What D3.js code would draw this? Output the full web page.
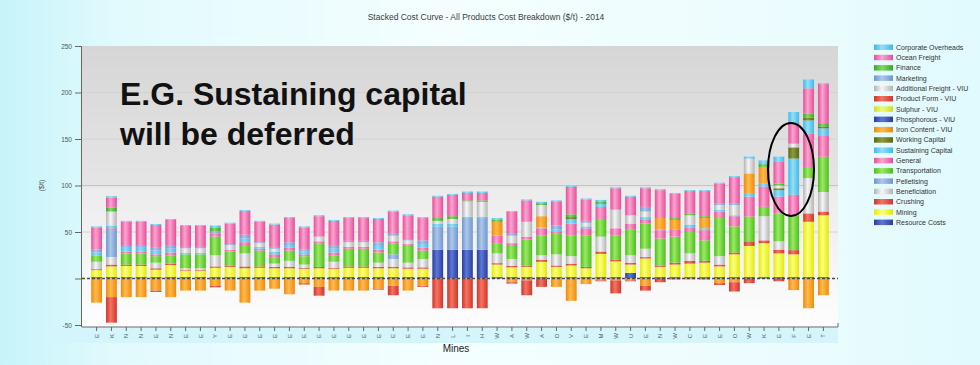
<!DOCTYPE html>
<html>
<head>
<meta charset="utf-8">
<script src="https://cdn.jsdelivr.net/npm/d3@7"></script>
<style>
  body { margin: 0; background: #fff; }
  svg { display: block; }
  text { font-family: "Liberation Sans", Arial, Helvetica, sans-serif; }
</style>
</head>
<body>
<svg id="chart" width="980" height="365"></svg>
<script>
// ---- Data: cost components per mine ($/t), 2014 ----
const mines = ["E","K","N","N","E","N","E","E","Y","E","E","E","E","E","E","E","E","E","E","E",
               "E","E","E","N","L","I","H","W","A","W","A","O","V","E","M","W","U","E","N","W",
               "C","E","E","O","W","K","E","F","E","T"];

const resourceCosts = [1.5,1.5,1.5,1.5,1.5,1.5,1.5,1.5,1.5,1.5,1.5,1.5,1.5,1.5,1.5,1.5,1.5,1.5,1.5,1.5,
                       1.5,1.5,1.5,31,31,31,31,1.5,1.5,1.5,1.5,1.5,1.5,1.5,1.5,1.5,6,1.5,1.5,1.5,
                       1.5,1.5,1.5,1.5,1.5,1.5,1.5,1.5,1.5,1.5];
const mining = [7.5,11.5,12,12,8,13,7,7,10,11,9.5,10,9.5,9.5,9,9.5,9,10,10,9.5,
                9.5,9,9,0,0,0,0,13.5,10.5,11,16.5,11,12.5,9.5,25,17,9,20,11,13.5,
                14.5,15.5,11.5,24.5,33.5,36.5,25.5,24.5,59.5,66.5];
const crushing = [1,2,1.5,1.5,1.5,1.5,1,1,1.5,1.5,2,1.5,1.5,1.5,1,1.5,1,1.5,1.5,1.5,
                  1.5,1.5,1.5,0,0,0,0,1.5,1.5,1.5,2,1.5,2,1.5,2.5,1.5,2,1.5,1.5,2,
                  3,2,2,2,5,3,4,4.5,9,4];
const beneficiation = [8,8,0,0,6,0,1.5,1.5,12,0,14,0,3.5,6.5,3.5,0,6.5,0,0,4.5,
                       8.5,5,9,0,0,0,0,10.5,7.5,0,5,12,8,0,16,0,8,9,0,0,
                       8,0,9,0,0,26,9,0,38,21];
const pelletising = [0,29,0,0,0,0,0,0,0,0,0,0,0,0,0,0,0,0,0,0,
                     5,0,0,25,25,34,34,0,0,0,0,0,0,0,0,0,0,0,0,0,
                     0,0,0,0,0,0,0,0,0,0];
const transportation = [7,0,12,12,7,9,15,15,20,15,9,17,7,11,9,25.5,7,19,19,11,
                         12,18,9,0,0,0,0,11,15,28,21,22,22,33.5,18,26,28,27,29,28,
                         23,22,41,28,26.5,10,30,37.5,12,38];
const general = [0,2,2,2,2,3,0,0,3,2,3,2,3,3,2,2,3,2,2,3,
                 2,2,3,0,0,0,0,8,2,3,8,2,13,8,14,8,6,4,9,8,
                 5,11,7,11,21.5,22,18,22,36,23];
const sustainingCapital = [3,3,4,4,4,4,1.5,1.5,0,0,4,2,3,3,3,0,4,0,0,4,
                           0,0,4,3,3,1.5,1.5,0,0,0,1,3,5,2,3,0,0,3,1,0,
                           3,2,2,1,4,3,7,39,14,7.5];
const workingCapital = [0,0,0,0,0,0,0,0,0,0,0,0,0,0,0,0,0,0,0,0,
                        0,0,0,0,0,0,0,0,0,0,0,0,2,0,0,0,0,0,0,0,
                        0,0,0,0,0,0,2,12,3,2];
const ironContentVIU = [-26,-20,-20,-20,-13,-20,-13,-13,-8,-13,-26,-13,-11,-17,-5,-9,-13,-13,-13,-11,
                        -8,-13,-8,0,0,0,0,15,-4,-2,12,-9,-24,-6,-2,-2,-2,-8,12,10,
                        -1,11,-5,-4,21,18,0,-12.5,-32,-18];
const phosphorousVIU = [0,0,0,0,0,0,0,0,0,0,0,0,0,0,0,0,0,0,0,0,
                        0,0,0,0,0,0,0,0,0,0,0,0,0,0,0,0,0,0,0,0,
                        0,0,0,0,0,0,0,0,0,0];
const sulphurVIU = [0,0,0,0,0,0,0,0,0,0,0,0,0,0,0,0,0,0,0,0,
                    0,0,0,0,0,0,0,0,0,0,0,0,0,0,0,0,0,0,0,0,
                    0,0,0,0,0,0,0,0,0,0];
const productFormVIU = [0,-27.5,0,0,-1.5,0,0,0,-1.5,0,0,0,0,0,-1.5,-9.5,0,0,0,-1,
                        -10,0,-1,-32,-32,-32,-32,0,-1.5,-16,-9,0,0,0,-1,-14,-1,-5,-4,-1,
                        0,-1,-2,-10,-5,0,-3,0,0,0];
const additionalFreightVIU = [0,15,0,0,0,0,5,5,0,5,0,4,3,0,0,5,0,5,5,0,
                              6,4,0,3,5,16.5,16,0,8,16,12,0,0,4,0,20,9,6,0,0,
                              10,0,5,11,16,0,3,4,0,0];
const marketing = [3,0,3,3,3,4,1.5,1.5,3,1,4,1,2,3,2,0,4,1.5,1.5,4,
                   2,1.5,4,0,0,0,0,0,2,0,0,4,0,2,0,0,0,5,0,0,
                   0,0,2,2,0,0,0,0,0,0];
const finance = [0,4,0,0,0,0,0,0,4,0,0,0,0,0,0,0,0,0,0,0,
                 0,0,0,3,3,1,1.5,2,0,0,2,0,3,0,3,0,0,0,0,2,
                 2,2,0,0,0,3,2,0,4.5,3.5];
const oceanFreight = [24,11,25,25,24.5,27,22.5,22.5,0,22,25.5,22,24,26,24,22,26,24.5,24.5,25,
                      24,25.5,24,23,23,8,8,0,23.5,23,0,26,29.5,23,0,23,20,20,30,26,
                      24,27,21,28,0,0,24,22,27,42];
const corporateOverheads = [1,1.5,1,1,1,1,1,1,2,1,1,1,1,1,1,1,1,1,1,1,
                            1,1,1,1,1,1.5,1.5,2,1,1,1.5,1,1,1,1.5,1,1,1,1,1,
                            1,1,1,1,2,4,5,12,9.5,1];

// Stack order, bottom to top
const seriesNames = ["Resource Costs","Mining","Crushing","Beneficiation","Pelletising","Transportation",
  "General","Sustaining Capital","Working Capital","Iron Content - VIU","Phosphorous - VIU","Sulphur - VIU",
  "Product Form - VIU","Additional Freight - VIU","Marketing","Finance","Ocean Freight","Corporate Overheads"];
const seriesValues = [resourceCosts, mining, crushing, beneficiation, pelletising, transportation,
  general, sustainingCapital, workingCapital, ironContentVIU, phosphorousVIU, sulphurVIU,
  productFormVIU, additionalFreightVIU, marketing, finance, oceanFreight, corporateOverheads];

const yTickValues = [250, 200, 150, 100, 50, 0, -50];
const yTickLabels = ["250", "200", "150", "100", "50", "", "-50"];

// ---- Colours (edge tone, highlight tone) ----
const palette = {
  "Resource Costs": ["#2b3d9c", "#5c78d6"],
  "Mining": ["#e4ea00", "#fbff80"],
  "Crushing": ["#d3352a", "#f27462"],
  "Beneficiation": ["#b4b4b4", "#f6f6f6"],
  "Pelletising": ["#7097cd", "#aec7ea"],
  "Transportation": ["#4bbf1c", "#9ce866"],
  "General": ["#ea4b9b", "#f8a6ce"],
  "Sustaining Capital": ["#3cbbe8", "#98def7"],
  "Working Capital": ["#5c6818", "#8e9a3a"],
  "Iron Content - VIU": ["#f0890a", "#ffbb4d"],
  "Phosphorous - VIU": ["#2b3d9c", "#5c78d6"],
  "Sulphur - VIU": ["#cfe01a", "#effa80"],
  "Product Form - VIU": ["#d3352a", "#f27462"],
  "Additional Freight - VIU": ["#b4b4b4", "#f6f6f6"],
  "Marketing": ["#7097cd", "#aec7ea"],
  "Finance": ["#38a626", "#86d862"],
  "Ocean Freight": ["#ea4b9b", "#f8a6ce"],
  "Corporate Overheads": ["#3cbbe8", "#98def7"]
};

const rows = mines.map((m, i) => {
  const r = { idx: i };
  seriesNames.forEach((s, k) => { r[s] = seriesValues[k][i]; });
  return r;
});

const svg = d3.select("#chart");
const W = 980, H = 365;
const plot = { left: 82, right: 838, top: 46, bottom: 327 };

const defs = svg.append("defs");

// page background
const bg = defs.append("linearGradient").attr("id", "pageBg").attr("x1", 0).attr("x2", 1).attr("y1", 0).attr("y2", 0);
[["0%", "#c6f4fa"], ["12%", "#e2fafd"], ["45%", "#f4feff"], ["80%", "#ecfcfe"], ["100%", "#e0fafd"]]
  .forEach(([o, c]) => bg.append("stop").attr("offset", o).attr("stop-color", c));
svg.append("rect").attr("width", W).attr("height", H).attr("fill", "url(#pageBg)");

// plot background
const pbg = defs.append("linearGradient").attr("id", "plotBg").attr("x1", 0).attr("x2", 0).attr("y1", 0).attr("y2", 1);
[["0%", "#d6d6d6"], ["50%", "#e5e5e5"], ["51%", "#ececec"], ["100%", "#fdfdfd"]]
  .forEach(([o, c]) => pbg.append("stop").attr("offset", o).attr("stop-color", c));

// bar shading gradients
seriesNames.forEach((s, k) => {
  const [edge, hi] = palette[s];
  const g = defs.append("linearGradient").attr("id", "grad" + k).attr("x1", 0).attr("x2", 1).attr("y1", 0).attr("y2", 0);
  g.append("stop").attr("offset", "0%").attr("stop-color", edge);
  g.append("stop").attr("offset", "42%").attr("stop-color", hi);
  g.append("stop").attr("offset", "100%").attr("stop-color", edge);
});

const x = d3.scaleBand().domain(d3.range(mines.length))
  .range([plot.left, plot.right]).paddingInner(0.27).paddingOuter(0.62);
const y = d3.scaleLinear().domain([-50, 250]).range([325, plot.top]);

svg.append("rect").attr("x", plot.left).attr("y", plot.top)
  .attr("width", plot.right - plot.left).attr("height", plot.bottom - plot.top)
  .attr("fill", "url(#plotBg)");

// x-axis label band
svg.append("rect").attr("x", plot.left - 30).attr("y", plot.bottom + 1)
  .attr("width", plot.right - plot.left + 30).attr("height", 15).attr("fill", "#d3f5fb");

// horizontal grid
svg.append("g").selectAll("line").data([50, 100, 150, 200]).join("line")
  .attr("x1", plot.left).attr("x2", plot.right)
  .attr("y1", d => y(d)).attr("y2", d => y(d))
  .attr("stroke", d => d === 100 ? "#c4c4c4" : "#d2d2d2").attr("stroke-width", 1);

// stacked bars
const stack = d3.stack().keys(seriesNames).offset(d3.stackOffsetDiverging);
const layers = stack(rows);

const gBars = svg.append("g");
layers.forEach((layer, k) => {
  gBars.append("g").attr("fill", "url(#grad" + k + ")")
    .selectAll("rect").data(layer.filter(d => d[1] !== d[0])).join("rect")
    .attr("x", d => x(d.data.idx))
    .attr("width", x.bandwidth())
    .attr("y", d => y(Math.max(d[0], d[1])))
    .attr("height", d => Math.abs(y(d[0]) - y(d[1])));
});

// zero reference line
svg.append("line").attr("x1", plot.left).attr("x2", plot.right)
  .attr("y1", y(0)).attr("y2", y(0))
  .attr("stroke", "#4a4a4a").attr("stroke-width", 1.3).attr("stroke-dasharray", "3,2");

// y axis
const yAxis = d3.axisLeft(y).tickValues(yTickValues)
  .tickFormat(d => yTickLabels[yTickValues.indexOf(d)]).tickSize(7).tickPadding(3);
const gy = svg.append("g").attr("transform", `translate(${plot.left},0)`).call(yAxis);
gy.select(".domain").attr("stroke", "#666").attr("d", `M-0.5,${plot.top}V${plot.bottom}`);
gy.selectAll(".tick line").attr("stroke", "#666");
gy.selectAll(".tick text").attr("font-size", 6.5).attr("fill", "#555")
  .style("font-family", "'Liberation Sans', Arial, sans-serif");

// x axis
const xAxis = d3.axisBottom(x).tickFormat(i => mines[i]).tickSize(4).tickSizeOuter(0);
const gx = svg.append("g").attr("transform", `translate(0,${plot.bottom})`).call(xAxis);
gx.select(".domain").attr("stroke", "#666").attr("d", `M${plot.left},0H${plot.right}V-4`);
gx.selectAll(".tick line").attr("stroke", "#666");
gx.selectAll(".tick text")
  .attr("font-size", 6).attr("fill", "#555")
  .style("font-family", "'Liberation Sans', Arial, sans-serif")
  .attr("transform", "translate(0,9) rotate(-90)")
  .attr("text-anchor", "middle").attr("dy", "0.35em").attr("y", 0).attr("x", 0);

// axis titles
svg.append("text").attr("transform", `translate(44,${y(100)}) rotate(-90)`)
  .attr("text-anchor", "middle").attr("font-size", 6.5).attr("fill", "#444").text("($/t)");
svg.append("text").attr("x", 456).attr("y", 352).attr("text-anchor", "middle")
  .attr("font-size", 10).attr("fill", "#222").text("Mines");

// title
svg.append("text").attr("x", 486).attr("y", 20).attr("text-anchor", "middle")
  .attr("font-size", 8.5).attr("fill", "#3a3a3a")
  .text("Stacked Cost Curve - All Products Cost Breakdown ($/t) - 2014");

// legend (top of stack listed first)
const legendItems = seriesNames.map((s, k) => ({ name: s, k })).reverse();
const gl = svg.append("g").attr("transform", "translate(874,44)");
const li = gl.selectAll("g").data(legendItems).join("g")
  .attr("transform", (d, i) => `translate(0,${i * 10.3})`);
li.append("rect").attr("width", 19).attr("height", 5.5).attr("y", 0.5)
  .attr("fill", d => "url(#grad" + d.k + ")");
li.append("text").attr("x", 22).attr("y", 3.3).attr("dy", "0.35em")
  .attr("font-size", 7).attr("fill", "#333").text(d => d.name);

// annotation
const note = svg.append("text").attr("font-size", 32).attr("font-weight", "bold").attr("fill", "#111");
note.append("tspan").attr("x", 120).attr("y", 105).text("E.G. Sustaining capital");
note.append("tspan").attr("x", 120).attr("y", 145).text("will be deferred");

svg.append("ellipse").attr("cx", 791).attr("cy", 169.5).attr("rx", 23).attr("ry", 46.5)
  .attr("fill", "none").attr("stroke", "#000").attr("stroke-width", 2);
</script>
</body>
</html>
